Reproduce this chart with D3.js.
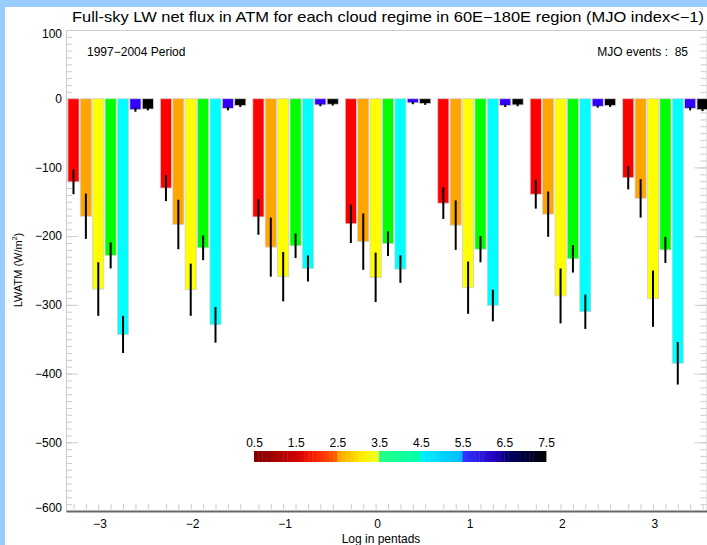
<!DOCTYPE html>
<html>
<head>
<meta charset="utf-8">
<script src="https://cdn.jsdelivr.net/npm/d3@7"></script>
<style>
html, body { margin: 0; padding: 0; background: #fff; }
svg { display: block; }
text { font-family: "Liberation Sans", Arial, sans-serif; }
</style>
</head>
<body>
<div id="chart"></div>
<script>
// lag in pentads (x groups) and cloud regimes (bars in each group)
const lags = [-3, -2, -1, 0, 1, 2, 3];
const regimes = ["1", "2", "3", "4", "5", "6", "7"];
const regimeColors = ["#ff0000", "#ffa500", "#ffff00", "#00ff00", "#00ffff", "#3300ff", "#000000"];

// LWATM mean (W/m2) per regime, one value per lag
const lwRegime1 = [-121, -130, -172, -182, -152, -139, -115];
const lwRegime2 = [-171, -183, -216, -208, -184, -168, -145];
const lwRegime3 = [-277, -278, -259, -260, -275, -287, -291];
const lwRegime4 = [-228, -217, -214, -211, -219, -233, -220];
const lwRegime5 = [-343, -329, -247, -248, -301, -310, -385];
const lwRegime6 = [-16, -14, -9, -6, -10, -11, -14];
const lwRegime7 = [-15, -10, -8, -7, -9, -10, -16];

// error bar half lengths
const errRegime1 = [18, 19, 26, 28, 23, 21, 17];
const errRegime2 = [33, 36, 43, 41, 36, 33, 28];
const errRegime3 = [39, 38, 36, 36, 38, 40, 41];
const errRegime4 = [19, 18, 18, 18, 19, 20, 19];
const errRegime5 = [27, 26, 19, 20, 23, 25, 31];
const errRegime6 = [3, 3, 2, 2, 2, 2, 3];
const errRegime7 = [2, 2, 2, 2, 2, 2, 2];

const yTicks = [100, 0, -100, -200, -300, -400, -500, -600];

// colour bar
const cbTicks = [0.5, 1.5, 2.5, 3.5, 4.5, 5.5, 6.5, 7.5];
const cbStops = [0.5, 1.5, 2.0, 2.5, 2.55, 3.1, 3.45, 3.55, 4.45, 4.55, 5.45, 5.55, 6.3, 6.6, 7.5];
const cbColors = ["#800000", "#cc0000", "#ff2200", "#ff6600", "#ffaa00", "#ffee00", "#eeff22", "#22ff88",
                  "#00ffaa", "#00eeff", "#00bbff", "#3333ff", "#2200bb", "#000066", "#000000"];

const lwAll = [lwRegime1, lwRegime2, lwRegime3, lwRegime4, lwRegime5, lwRegime6, lwRegime7];
const errAll = [errRegime1, errRegime2, errRegime3, errRegime4, errRegime5, errRegime6, errRegime7];

const bars = [];
regimes.forEach((r, i) => {
    lags.forEach((lag, j) => {
        bars.push({ regime: r, color: regimeColors[i], lag: lag, value: lwAll[i][j], err: errAll[i][j] });
    });
});

const W = 707, H = 545;
const margin = { top: 30, right: 0, bottom: 34, left: 66 },
    width = W - margin.left - margin.right,
    height = H - margin.top - margin.bottom;

const svg = d3.select("#chart").append("svg")
    .attr("width", W)
    .attr("height", H);

// light blue frame
svg.append("rect").attr("width", W).attr("height", H).attr("fill", "#99ccff");
svg.append("rect").attr("x", 5).attr("y", 7).attr("width", W - 5).attr("height", H - 7).attr("fill", "#fff");

const g = svg.append("g")
    .attr("transform", `translate(${margin.left}, ${margin.top})`);

// x: lag units, y: W/m2
const x = d3.scaleLinear()
    .domain([-3.364, 3.569])
    .range([0, width]);

const xSub = d3.scaleBand()
    .domain(regimes)
    .range([-0.35, 0.588])
    .paddingInner(0.1)
    .paddingOuter(0.05);

const y = d3.scaleLinear()
    .domain([-600, 100])
    .range([height, 0]);

const bw = x(xSub.bandwidth()) - x(0);

// left axis (ticks pointing inward)
const yAxis = g.append("g")
    .call(d3.axisLeft(y).tickValues(yTicks).tickSize(-12).tickSizeOuter(0).tickPadding(4)
        .tickFormat(d => d < 0 ? "\u2212" + Math.abs(d) : d));
yAxis.select(".domain").attr("stroke", "#cccccc");
yAxis.selectAll(".tick line").attr("stroke", "#cccccc");
yAxis.selectAll(".tick text")
    .attr("font-size", 12)
    .attr("font-family", "Liberation Sans, Arial, sans-serif")
    .attr("fill", "#000")
    .attr("dy", d => d === 100 ? "0.6em" : d === -600 ? "0.0em" : "0.32em");

g.append("g")
    .call(d3.axisLeft(y).ticks(70).tickSize(-6).tickSizeOuter(0).tickFormat(""))
    .call(a => a.select(".domain").remove())
    .selectAll(".tick line").attr("stroke", "#cccccc");

// right axis
const yRight = g.append("g")
    .attr("transform", `translate(${width - 0.5}, 0)`)
    .call(d3.axisRight(y).tickValues(yTicks).tickSize(-12).tickSizeOuter(0).tickFormat(""));
yRight.select(".domain").attr("stroke", "#cccccc");
yRight.selectAll(".tick line").attr("stroke", "#cccccc");

g.append("g")
    .attr("transform", `translate(${width - 0.5}, 0)`)
    .call(d3.axisRight(y).ticks(70).tickSize(-6).tickSizeOuter(0).tickFormat(""))
    .call(a => a.select(".domain").remove())
    .selectAll(".tick line").attr("stroke", "#cccccc");

// top line
g.append("line")
    .attr("x1", 0).attr("x2", width)
    .attr("y1", 0.5).attr("y2", 0.5)
    .attr("stroke", "#cccccc");

// bottom axis: small ticks at every bar centre
const centers = bars.map(d => d.lag + xSub(d.regime) + xSub.bandwidth() / 2);
const xAxis = g.append("g")
    .attr("transform", `translate(0, ${height})`)
    .call(d3.axisBottom(x).tickValues(centers).tickSize(-7).tickSizeOuter(0).tickFormat(""));
xAxis.selectAll(".tick line").attr("stroke", "#cccccc");
xAxis.select(".domain").attr("stroke", "#666666").attr("stroke-width", 2);

const xLabels = g.append("g")
    .attr("transform", `translate(0, ${height})`)
    .call(d3.axisBottom(x).tickValues(lags).tickSize(0).tickPadding(8)
        .tickFormat(d => d < 0 ? "\u2212" + Math.abs(d) : d));
xLabels.select(".domain").remove();
xLabels.selectAll(".tick text")
    .attr("font-size", 12)
    .attr("font-family", "Liberation Sans, Arial, sans-serif")
    .attr("fill", "#000");

// bars
g.selectAll("rect.bar")
    .data(bars)
    .join("rect")
    .attr("class", "bar")
    .attr("x", d => x(d.lag + xSub(d.regime)))
    .attr("y", y(0))
    .attr("width", bw)
    .attr("height", d => y(d.value) - y(0))
    .attr("fill", d => d.color)
    .attr("stroke", "#d0d0d0")
    .attr("stroke-width", 0.8);

// error bars
g.selectAll("line.err")
    .data(bars)
    .join("line")
    .attr("class", "err")
    .attr("x1", d => x(d.lag + xSub(d.regime) + xSub.bandwidth() / 2))
    .attr("x2", d => x(d.lag + xSub(d.regime) + xSub.bandwidth() / 2))
    .attr("y1", d => y(d.value + d.err))
    .attr("y2", d => y(d.value - d.err))
    .attr("stroke", "#000")
    .attr("stroke-width", 2);

// titles and notes
svg.append("text")
    .attr("x", 72)
    .attr("y", 22)
    .attr("font-size", 14.5)
    .attr("textLength", 632)
    .attr("lengthAdjust", "spacingAndGlyphs")
    .attr("fill", "#000")
    .text("Full-sky LW net flux in ATM for each cloud regime in 60E\u2212180E region (MJO index<\u22121)");

svg.append("text")
    .attr("x", 87)
    .attr("y", 56)
    .attr("font-size", 12)
    .attr("fill", "#000")
    .text("1997\u22122004 Period");

svg.append("text")
    .attr("x", 688)
    .attr("y", 56)
    .attr("font-size", 12)
    .attr("text-anchor", "end")
    .attr("fill", "#000")
    .attr("xml:space", "preserve")
    .text("MJO events :  85");

svg.append("text")
    .attr("x", 381)
    .attr("y", 543)
    .attr("font-size", 12)
    .attr("text-anchor", "middle")
    .attr("fill", "#000")
    .text("Log in pentads");

const yTitle = svg.append("text")
    .attr("transform", "translate(22, 270) rotate(-90)")
    .attr("font-size", 11)
    .attr("text-anchor", "middle")
    .attr("fill", "#000");
yTitle.append("tspan").text("LWATM (W/m");
yTitle.append("tspan").attr("font-size", 7).attr("dy", -5).text("2");
yTitle.append("tspan").attr("dy", 5).text(")");

// colour bar
const cb = d3.scaleLinear().domain([0.5, 7.5]).range([254, 546]);
const cbColor = d3.scaleLinear().domain(cbStops).range(cbColors);
const cbStep = 0.1;
const cbCells = d3.range(0.5, 7.5 - 1e-9, cbStep);

svg.append("g")
    .selectAll("rect")
    .data(cbCells)
    .join("rect")
    .attr("x", d => cb(d))
    .attr("y", 451)
    .attr("width", d => cb(d + cbStep) - cb(d) + 0.4)
    .attr("height", 11)
    .attr("fill", d => cbColor(d + cbStep / 2));

const cbAxis = svg.append("g")
    .attr("transform", "translate(0, 451)")
    .call(d3.axisTop(cb).tickValues(cbTicks).tickSize(0).tickPadding(4).tickFormat(d3.format(".1f")));
cbAxis.select(".domain").remove();
cbAxis.selectAll(".tick text")
    .attr("font-size", 12)
    .attr("font-family", "Liberation Sans, Arial, sans-serif")
    .attr("fill", "#000");
</script>
</body>
</html>
